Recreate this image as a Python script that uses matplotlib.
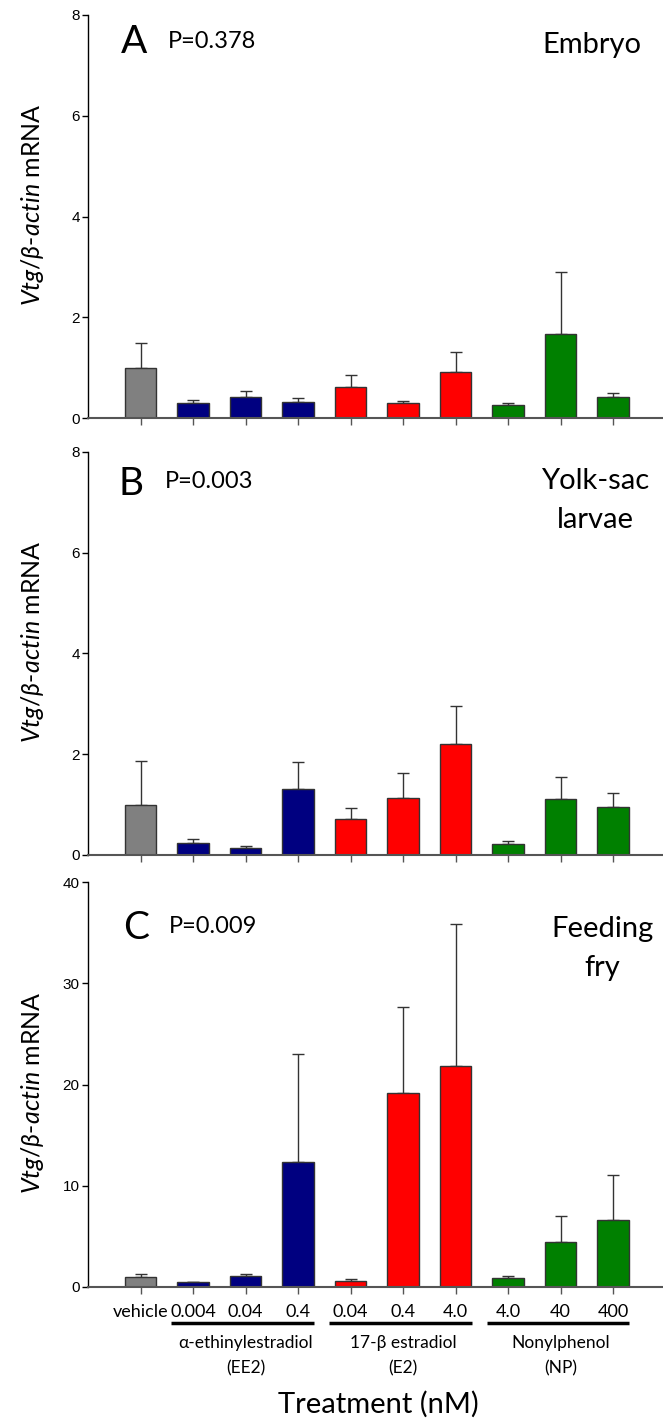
import matplotlib
matplotlib.use('Agg')
import matplotlib.pyplot as plt
import matplotlib.transforms as mtransforms
import numpy as np

plt.rcParams['font.family'] = ['Lato', 'DejaVu Sans']
plt.rcParams['mathtext.fontset'] = 'custom'
plt.rcParams['mathtext.rm'] = 'Lato'
plt.rcParams['mathtext.it'] = 'Lato:italic'

### Data ###
doses = ['vehicle', '0.004', '0.04', '0.4', '0.04', '0.4', '4.0', '4.0', '40', '400']
treatment = ['vehicle', 'EE2', 'EE2', 'EE2', 'E2', 'E2', 'E2', 'NP', 'NP', 'NP']

embryo_mean = [1.00, 0.29, 0.42, 0.31, 0.62, 0.29, 0.92, 0.25, 1.66, 0.41]
embryo_sem = [0.49, 0.06, 0.11, 0.09, 0.24, 0.04, 0.39, 0.04, 1.23, 0.09]

yolk_mean = [1.00, 0.24, 0.14, 1.32, 0.71, 1.14, 2.20, 0.22, 1.12, 0.95]
yolk_sem = [0.87, 0.08, 0.04, 0.53, 0.22, 0.48, 0.75, 0.05, 0.43, 0.28]

fry_mean = [0.99, 0.46, 1.06, 12.3, 0.63, 19.2, 21.8, 0.92, 4.49, 6.6]
fry_sem = [0.26, 0.07, 0.26, 10.7, 0.16, 8.5, 14.1, 0.17, 2.57, 4.42]

group_names = ['EE2', 'E2', 'NP']
group_labels = [u'\u03b1-ethinylestradiol\n(EE2)', u'17-\u03b2 estradiol\n(E2)', 'Nonylphenol\n(NP)']

colors = {'vehicle': '#808080', 'EE2': '#000080', 'E2': '#ff0000', 'NP': '#008000'}

panels = [
    ('A', 'P=0.378', ['Embryo'], embryo_mean, embryo_sem, 8, 2),
    ('B', 'P=0.003', ['Yolk-sac', 'larvae'], yolk_mean, yolk_sem, 8, 2),
    ('C', 'P=0.009', ['Feeding', 'fry'], fry_mean, fry_sem, 40, 10),
]

W, H = 663, 1418
fig = plt.figure(figsize=(W / 100, H / 100), dpi=100)

# axes top/bottom in pixels
boxes = [(15, 418), (452, 855), (882, 1287)]
label_mid = [0.53, 0.53, 0.48]
ax_left = 88

x = np.arange(1, len(doses) + 1)
bar_colors = [colors[t] for t in treatment]

axes = []
for (letter, ptxt, stage, mean, sem, ymax, ystep), (top, bot), lm in zip(panels, boxes, label_mid):
    ax = fig.add_axes([ax_left / W, 1 - bot / H, (W - ax_left) / W, (bot - top) / H])
    axes.append(ax)
    mean = np.array(mean)
    sem = np.array(sem)
    ax.bar(x, mean, width=0.6, color=bar_colors, edgecolor='#333333', linewidth=1, zorder=2)
    ax.errorbar(x, mean, yerr=[np.zeros_like(sem), sem], fmt='none', ecolor='#333333',
                elinewidth=1, capsize=4.5, capthick=1, zorder=1)
    ax.set_xlim(0, 10.95)
    ax.set_ylim(0, ymax)
    ax.set_yticks(np.arange(0, ymax + 0.1, ystep))
    ax.set_xticks(x)
    ax.set_xticklabels([])
    for s in ['top', 'right']:
        ax.spines[s].set_visible(False)
    ax.spines['left'].set_linewidth(1)
    ax.spines['bottom'].set_linewidth(1.5)
    ax.spines['bottom'].set_color('#555555')
    ax.tick_params(axis='x', direction='out', length=5, width=1, color='#555555')
    ax.tick_params(axis='y', direction='out', length=4, width=1, pad=2)
    for lab in ax.get_yticklabels():
        lab.set_fontfamily('Liberation Sans')
        lab.set_fontsize(11)

    h = bot - top
    def fy(py):
        return (bot - py) / h
    def fx(px):
        return (px - ax_left) / (W - ax_left)

    ax.text(-0.097, lm, r'$Vtg/\beta$-$actin$ mRNA', transform=ax.transAxes,
            rotation=90, ha='center', va='center', fontsize=18)

    if letter == 'A':
        ax.text(fx(121), fy(53), letter, transform=ax.transAxes, fontsize=28, va='baseline')
        ax.text(fx(168), fy(48), ptxt, transform=ax.transAxes, fontsize=17, va='baseline')
        ax.text(fx(641), fy(53), stage[0], transform=ax.transAxes, fontsize=21,
                va='baseline', ha='right')
    elif letter == 'B':
        ax.text(fx(118), fy(495), letter, transform=ax.transAxes, fontsize=28, va='baseline')
        ax.text(fx(165), fy(488), ptxt, transform=ax.transAxes, fontsize=17, va='baseline')
        ax.text(fx(595), fy(489), stage[0], transform=ax.transAxes, fontsize=21,
                va='baseline', ha='center')
        ax.text(fx(595), fy(528), stage[1], transform=ax.transAxes, fontsize=21,
                va='baseline', ha='center')
    else:
        ax.text(fx(123), fy(939), letter, transform=ax.transAxes, fontsize=28, va='baseline')
        ax.text(fx(169), fy(933), ptxt, transform=ax.transAxes, fontsize=17, va='baseline')
        ax.text(fx(602), fy(937), stage[0], transform=ax.transAxes, fontsize=21,
                va='baseline', ha='center')
        ax.text(fx(602), fy(976), stage[1], transform=ax.transAxes, fontsize=21,
                va='baseline', ha='center')

### Treatment labels under panel C ###
axC = axes[2]
trans = mtransforms.blended_transform_factory(axC.transData, fig.transFigure)
for xi, d in zip(x, doses):
    axC.text(xi, 1 - 1312 / H, d, transform=trans, ha='center', va='center', fontsize=13)

for g, glab in zip(group_names, group_labels):
    idx = [i + 1 for i, t in enumerate(treatment) if t == g]
    axC.plot([idx[0] - 0.41, idx[-1] + 0.31], [1 - 1323 / H] * 2, transform=trans,
             color='black', linewidth=2.5, clip_on=False, solid_capstyle='butt')
    first, second = glab.split('\n')
    axC.text(np.mean(idx), 1 - 1343 / H, first, transform=trans, ha='center', va='center',
             fontsize=12.5)
    axC.text(np.mean(idx), 1 - 1368 / H, second, transform=trans, ha='center', va='center',
             fontsize=12.5)

fig.text(378 / W, 1 - 1404 / H, 'Treatment (nM)', ha='center', va='center', fontsize=21)

fig.savefig('out.png', dpi=100)
